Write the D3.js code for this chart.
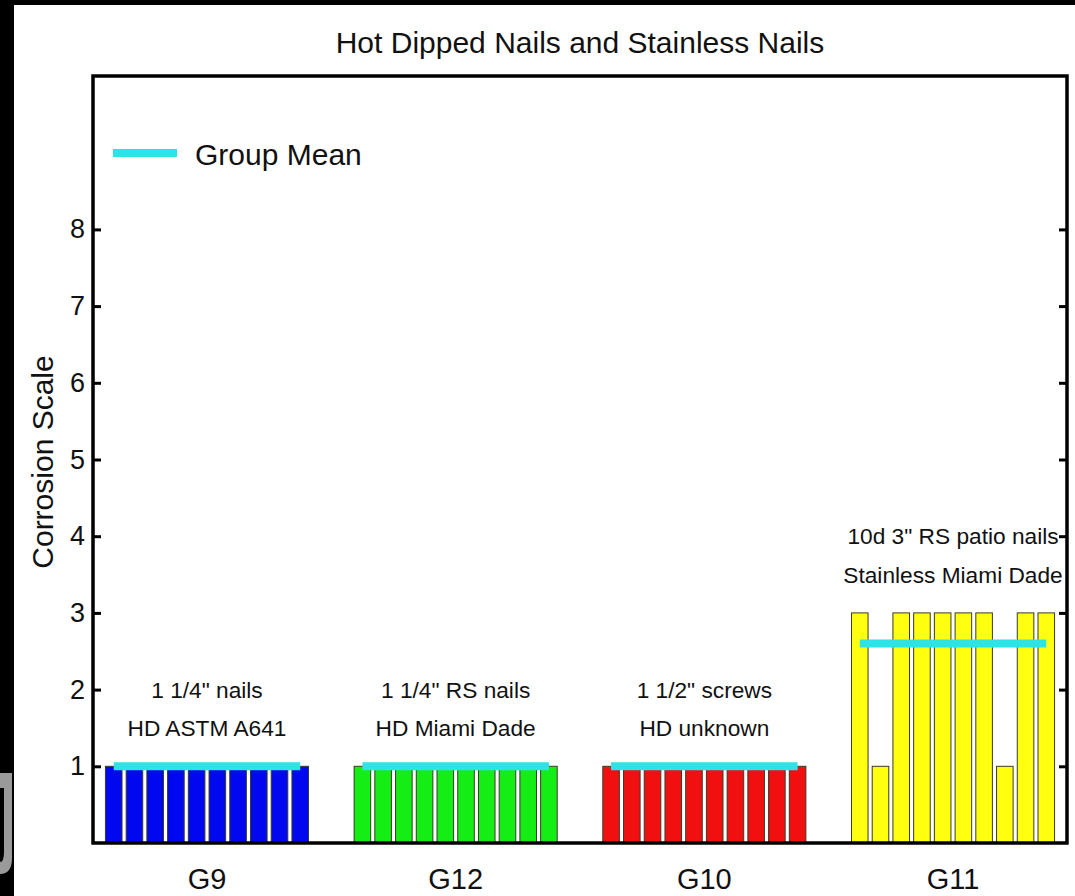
<!DOCTYPE html>
<html>
<head>
<meta charset="utf-8">
<script src="https://cdn.jsdelivr.net/npm/d3@7"></script>
<style>
  body { margin: 0; background: #000; }
  svg { display: block; }
  text { font-family: "Liberation Sans", Arial, Helvetica, sans-serif; fill: #111; }
</style>
</head>
<body>
<svg id="chart" width="1075" height="896"></svg>
<script>
// Corrosion ratings, ten specimens per fastener group
const groups = ["G9", "G12", "G10", "G11"];
const g9Values  = [1, 1, 1, 1, 1, 1, 1, 1, 1, 1];
const g12Values = [1, 1, 1, 1, 1, 1, 1, 1, 1, 1];
const g10Values = [1, 1, 1, 1, 1, 1, 1, 1, 1, 1];
const g11Values = [3, 1, 3, 3, 3, 3, 3, 1, 3, 3];
const groupValues = [g9Values, g12Values, g10Values, g11Values];
const groupColors = ["#0008f0", "#14ee14", "#f01010", "#ffff10"];
const noteLine1 = ['1 1/4" nails', '1 1/4" RS nails', '1 1/2" screws', '10d 3" RS patio nails'];
const noteLine2 = ["HD ASTM A641", "HD Miami Dade", "HD unknown", "Stainless Miami Dade"];
const yTicks = [1, 2, 3, 4, 5, 6, 7, 8];
const legendLabel = "Group Mean";
const chartTitle = "Hot Dipped Nails and Stainless Nails";
const yLabel = "Corrosion Scale";

const W = 1075, H = 896;
const plot = { left: 93, right: 1067, top: 76, bottom: 843 };
const groupStride = 12;   // slots between the first bars of neighbouring groups
const barWidth = 0.8;
const meanColor = "#2ae4e6";

const svg = d3.select("#chart");

// Page: white figure area with a dark frame along the top and left
svg.append("rect").attr("width", W).attr("height", H).attr("fill", "#000");
svg.append("rect").attr("x", 14).attr("y", 5).attr("width", W - 14).attr("height", H - 5).attr("fill", "#fff");
// Partial logo glyph at the lower left edge
svg.append("path")
  .attr("d", "M0,773 L12,773 L12,858 Q12,874 0,874 L0,862 Q4,862 4,852 L4,788 L0,788 Z")
  .attr("fill", "#9a9a9a");

const x = d3.scaleLinear().domain([0, 47]).range([plot.left, plot.right]);
const y = d3.scaleLinear().domain([0, 10]).range([plot.bottom, plot.top]);

const slot = (g, i) => g * groupStride + i + 1;

// Bars
groupValues.forEach((vals, g) => {
  svg.append("g").selectAll("rect")
    .data(vals)
    .join("rect")
    .attr("x", (d, i) => x(slot(g, i) - barWidth / 2))
    .attr("width", (d, i) => x(slot(g, i) + barWidth / 2) - x(slot(g, i) - barWidth / 2))
    .attr("y", d => y(d))
    .attr("height", d => y(0) - y(d))
    .attr("fill", groupColors[g])
    .attr("stroke", "#3a3a2a")
    .attr("stroke-width", 1);
});

// Group mean lines
groupValues.forEach((vals, g) => {
  const m = d3.mean(vals);
  svg.append("line")
    .attr("x1", x(slot(g, 0))).attr("x2", x(slot(g, vals.length - 1)))
    .attr("y1", y(m)).attr("y2", y(m))
    .attr("stroke", meanColor).attr("stroke-width", 8);
});

// Two-line group descriptions above the tallest bar
groupValues.forEach((vals, g) => {
  const cx = x(slot(g, (vals.length - 1) / 2));
  const top = d3.max(vals);
  svg.append("text").attr("x", cx).attr("y", y(top + 1))
    .attr("text-anchor", "middle").attr("dominant-baseline", "central")
    .attr("font-size", 22.7).text(noteLine1[g]);
  svg.append("text").attr("x", cx).attr("y", y(top + 0.5))
    .attr("text-anchor", "middle").attr("dominant-baseline", "central")
    .attr("font-size", 22.7).text(noteLine2[g]);
});

// Axis box
svg.append("rect")
  .attr("x", plot.left).attr("y", plot.top)
  .attr("width", plot.right - plot.left).attr("height", plot.bottom - plot.top)
  .attr("fill", "none").attr("stroke", "#000").attr("stroke-width", 3.5);

// Y axis, ticks pointing inward on both sides
const yAxisL = d3.axisRight(y).tickValues(yTicks).tickSize(8).tickFormat("");
const gl = svg.append("g").attr("transform", `translate(${plot.left},0)`).call(yAxisL);
gl.select(".domain").remove();
gl.selectAll(".tick line").attr("stroke", "#000").attr("stroke-width", 3);
const yAxisR = d3.axisLeft(y).tickValues(yTicks).tickSize(8).tickFormat("");
const gr = svg.append("g").attr("transform", `translate(${plot.right},0)`).call(yAxisR);
gr.select(".domain").remove();
gr.selectAll(".tick line").attr("stroke", "#000").attr("stroke-width", 3);

svg.append("g").selectAll("text")
  .data(yTicks)
  .join("text")
  .attr("x", plot.left - 8)
  .attr("y", d => y(d))
  .attr("text-anchor", "end").attr("dominant-baseline", "central")
  .attr("font-size", 27)
  .text(d => d);

// Group names under the axis
svg.append("g").selectAll("text")
  .data(groups)
  .join("text")
  .attr("x", (d, g) => x(slot(g, 4.5)))
  .attr("y", 889)
  .attr("text-anchor", "middle")
  .attr("font-size", 29)
  .text(d => d);

// Y label
svg.append("text")
  .attr("transform", "translate(53,462) rotate(-90)")
  .attr("text-anchor", "middle")
  .attr("font-size", 30)
  .text(yLabel);

// Title
svg.append("text")
  .attr("x", 580).attr("y", 53)
  .attr("text-anchor", "middle")
  .attr("font-size", 30)
  .text(chartTitle);

// Legend
svg.append("line")
  .attr("x1", 113).attr("x2", 177).attr("y1", 153).attr("y2", 153)
  .attr("stroke", meanColor).attr("stroke-width", 8);
svg.append("text")
  .attr("x", 195).attr("y", 165)
  .attr("font-size", 30)
  .text(legendLabel);
</script>
</body>
</html>
